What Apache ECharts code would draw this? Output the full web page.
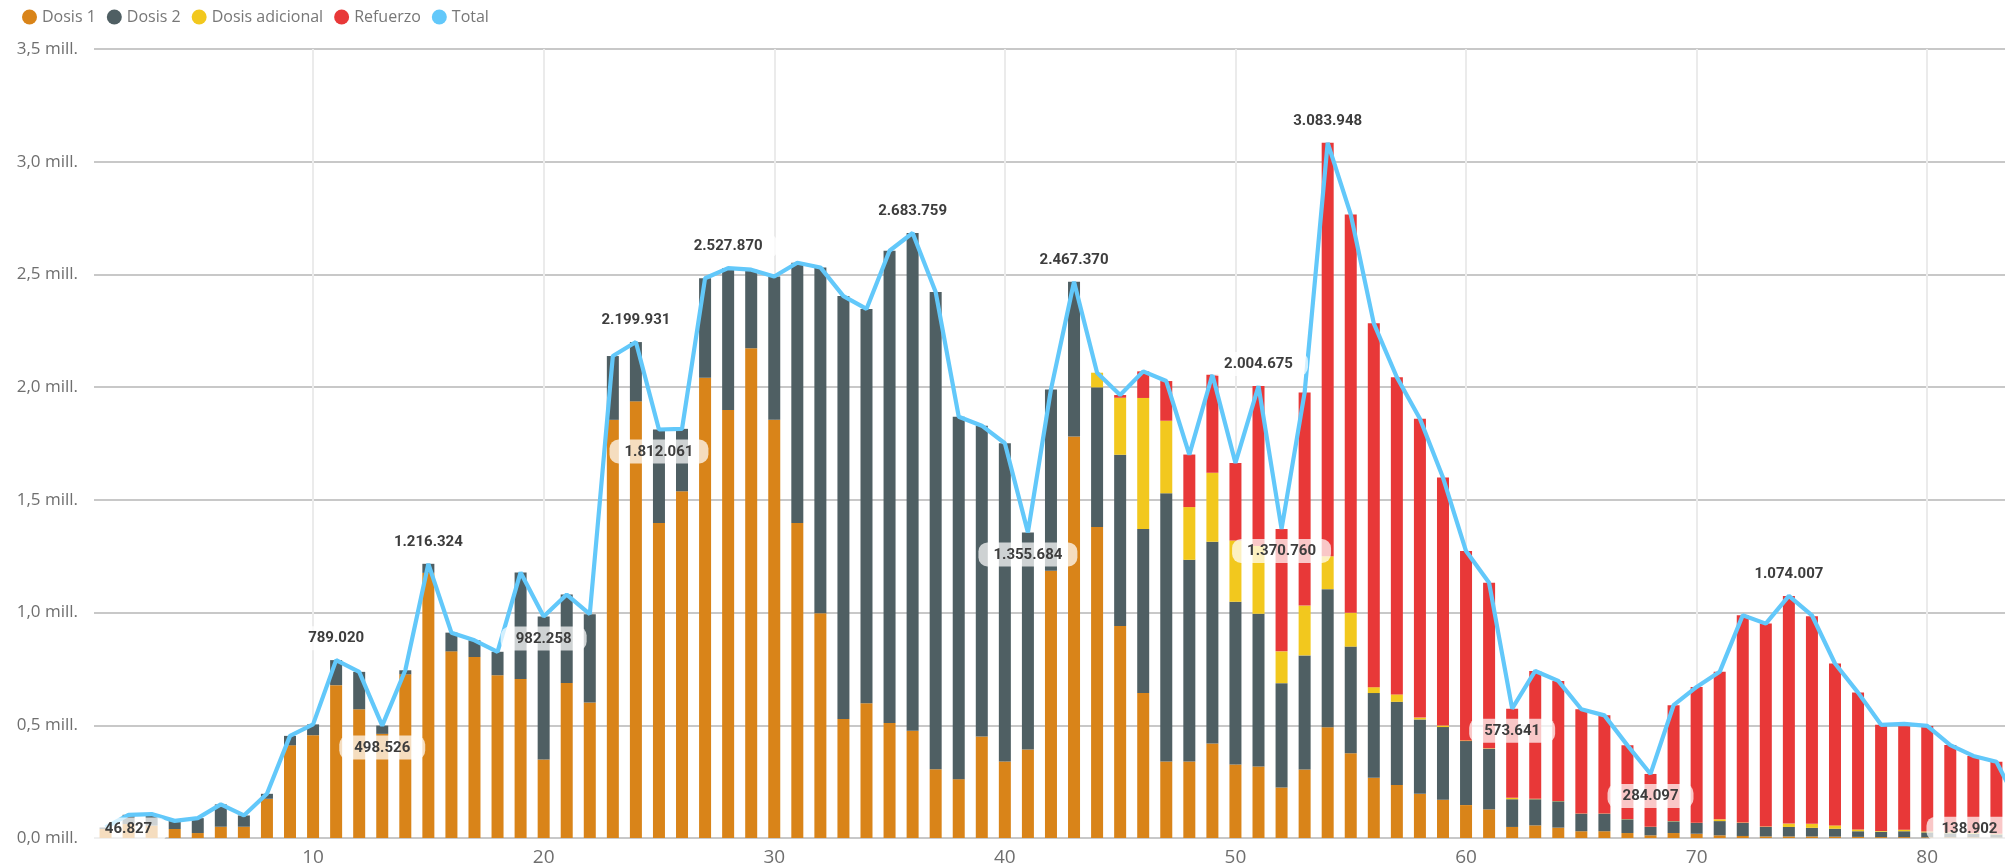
<!DOCTYPE html>
<html><head><meta charset="utf-8">
<script src="https://cdn.jsdelivr.net/npm/echarts@6/dist/echarts.min.js"></script>
<style>html,body{margin:0;padding:0;background:#fff}#c{width:2005px;height:867px}</style>
</head><body><div id="c"></div>
<script>
// Week numbers (x values)
const weeks = [1,2,3,4,5,6,7,8,9,10,11,12,13,14,15,16,17,18,19,20,21,22,23,24,25,26,27,28,29,30,31,32,33,34,35,36,37,38,39,40,41,42,43,44,45,46,47,48,49,50,51,52,53,54,55,56,57,58,59,60,61,62,63,64,65,66,67,68,69,70,71,72,73,74,75,76,77,78,79,80,81,82,83,84];
const seriesNames = ['Dosis 1','Dosis 2','Dosis adicional','Refuerzo','Total'];
const dosis1 = [40000,62000,55000,40000,22000,50000,50000,174000,411000,456000,678000,571000,462000,726000,1176000,828000,803000,722000,705000,348000,688000,601000,1855000,1937000,1397000,1538000,2042000,1899000,2172000,1855000,1397000,997000,528000,598000,510000,476000,305000,261000,450000,339000,393000,1186000,1781000,1380000,940000,643000,339000,339000,419000,326000,317000,224000,304000,491000,376000,267000,235000,196000,170000,146000,127000,49000,56000,46000,30000,30000,22000,12000,22000,19000,12000,9000,7000,7000,7000,6000,5000,4000,4000,3000,3000,3000,2000,1000];
const dosis2 = [6827,41000,51000,36000,66000,99000,50000,22000,42000,48000,111020,166000,36526,18000,40324,83000,74000,104000,473000,634258,392000,392000,283000,262931,415061,277000,441000,628870,349000,636000,1155000,1534000,1876000,1749000,2095000,2207759,2117000,1608000,1379000,1412000,962684,804000,686370,619000,760000,728000,1190000,895000,895000,722000,678000,463000,506000,613000,473000,376000,369000,330000,322000,284000,269000,123000,116000,117000,78000,78000,61000,37000,52000,48000,63000,58000,42000,42000,38000,35000,25000,24000,26000,22000,18000,16000,14000,6000];
const dosisAdicional = [0,0,0,0,0,0,0,0,0,0,0,0,0,0,0,0,0,0,0,0,0,0,0,0,0,0,0,0,0,0,0,0,0,0,0,0,0,0,0,0,0,0,0,65000,253000,581000,322000,234000,306000,272000,300000,141000,221000,146000,150000,26000,33000,8000,7000,3000,2000,6000,2000,1000,1000,1000,1000,1000,1000,1000,8000,2000,2000,15000,18000,15000,8000,3000,7000,4000,4000,3000,3000,1000];
const refuerzo = [0,0,0,0,0,0,0,0,0,0,0,0,0,0,0,0,0,0,0,0,0,0,0,0,0,0,0,0,0,0,0,0,0,0,0,0,0,0,0,0,0,0,0,0,12000,118000,176000,233000,435000,344000,709675,542760,945000,1833948,1767000,1614000,1407000,1326000,1100000,840000,734000,395641,567000,533000,462000,435000,327000,234097,514000,602000,654000,919000,900000,1010007,921000,718000,607000,471000,469000,468000,387000,342000,319000,130902];
const total = [46827,103000,106000,76000,88000,149000,100000,196000,453000,504000,789020,737000,498526,744000,1216324,911000,877000,826000,1178000,982258,1080000,993000,2138000,2199931,1812061,1815000,2483000,2527870,2521000,2491000,2552000,2531000,2404000,2347000,2605000,2683759,2422000,1869000,1829000,1751000,1355684,1990000,2467370,2064000,1965000,2070000,2027000,1701000,2055000,1664000,2004675,1370760,1976000,3083948,2766000,2283000,2044000,1860000,1599000,1273000,1132000,573641,741000,697000,571000,544000,411000,284097,589000,670000,737000,988000,951000,1074007,988000,774000,645000,502000,506000,497000,412000,364000,338000,138902];
// Weeks whose Total value is labelled
const labelsAbove = [11,15,24,28,36,43,51,54,74];
const labelsBelow = [1,13,20,25,41,52,62,68,84];
const xTickLabels = [10,20,30,40,50,60,70,80];
const yTickValues = [0,500000,1000000,1500000,2000000,2500000,3000000,3500000];

const colors = ['#D98419','#4F5F63','#F2C81E','#E83838','#62C8FA'];

function fmtThousands(n){ return String(Math.round(n)).replace(/\B(?=(\d{3})+(?!\d))/g,'.'); }
function fmtMill(v){ return (v/1e6).toFixed(1).replace('.',',') + ' mill.'; }

const chart = echarts.init(document.getElementById('c'), null, {renderer:'canvas'});

const barSeries = [dosis1, dosis2, dosisAdicional, refuerzo].map((arr, k) => ({
  name: seriesNames[k],
  type: 'bar',
  stack: 'total',
  barWidth: 12,
  xAxisIndex: 0,
  itemStyle: {color: colors[k]},
  data: arr.slice(),
  z: 2
}));

const labelBase = {
  show: true,
  formatter: p => fmtThousands(p.value),
  fontFamily: 'Roboto',
  fontWeight: 'bold',
  fontSize: 15,
  color: '#3d3d3d',
  backgroundColor: 'rgba(255,255,255,0.72)',
  padding: [5, 15, 4, 15],
  borderRadius: 9,
  distance: 10
};

const lineData = weeks.map((w,i) => {
  const item = {value: total[i]};
  if (labelsAbove.includes(w)) item.label = Object.assign({}, labelBase, {position:'top'});
  if (labelsBelow.includes(w)) {
    item.label = Object.assign({}, labelBase, {position:'bottom'});
    if (i === 0) item.label = Object.assign({}, labelBase, {position:'inside', offset:[23, 2]});
    if (i === weeks.length - 1) item.label = Object.assign({}, labelBase, {position:'bottom', offset:[-50, 0]});
  }
  return item;
});

chart.setOption({
  animation: false,
  textStyle: {fontFamily: 'Open Sans'},
  legend: {
    left: 17, top: 4,
    icon: 'circle',
    itemWidth: 15, itemHeight: 15, itemGap: 11,
    data: seriesNames,
    textStyle: {fontSize: 16, color: '#777', fontFamily: 'Open Sans'}
  },
  grid: {left: 94, top: 49, height: 789, width: 1937, outerBoundsMode: 'none', containLabel: false},
  xAxis: [{
    type: 'category',
    data: weeks,
    boundaryGap: true,
    position: 'bottom',
    axisLine: {show: false},
    axisTick: {show: false},
    axisLabel: {show: false},
    splitLine: {show: false}
  }, {
    type: 'value',
    min: 0.5, max: 84.5,
    minInterval: 10, maxInterval: 10,
    position: 'bottom',
    axisLine: {show: false},
    axisTick: {show: false},
    axisLabel: {
      showMinLabel: false, showMaxLabel: false,
      fontSize: 19, color: '#6f6f6f', margin: 10, fontFamily: 'Open Sans',
      formatter: v => (xTickLabels.includes(v) ? String(v) : '')
    },
    splitLine: {show: true, showMinLine: false, showMaxLine: false, lineStyle: {color: '#ebebeb', width: 2}}
  }],
  yAxis: {
    type: 'value',
    min: yTickValues[0], max: yTickValues[yTickValues.length-1], interval: 500000,
    axisLine: {show: false},
    axisTick: {show: false},
    axisLabel: {formatter: fmtMill, fontSize: 17, color: '#6f6f6f', margin: 16, fontFamily: 'Open Sans'},
    splitLine: {show: true, lineStyle: {color: '#c8c8c8', width: 2}}
  },
  series: barSeries.concat([{
    name: 'Total',
    type: 'line',
    xAxisIndex: 0,
    data: lineData,
    showSymbol: true,
    showAllSymbol: true,
    symbol: 'circle',
    symbolSize: 0,
    clip: false,
    itemStyle: {color: colors[4]},
    lineStyle: {color: colors[4], width: 4.2},
    label: {show: false},
    z: 5
  }])
});
</script>
</body></html>
